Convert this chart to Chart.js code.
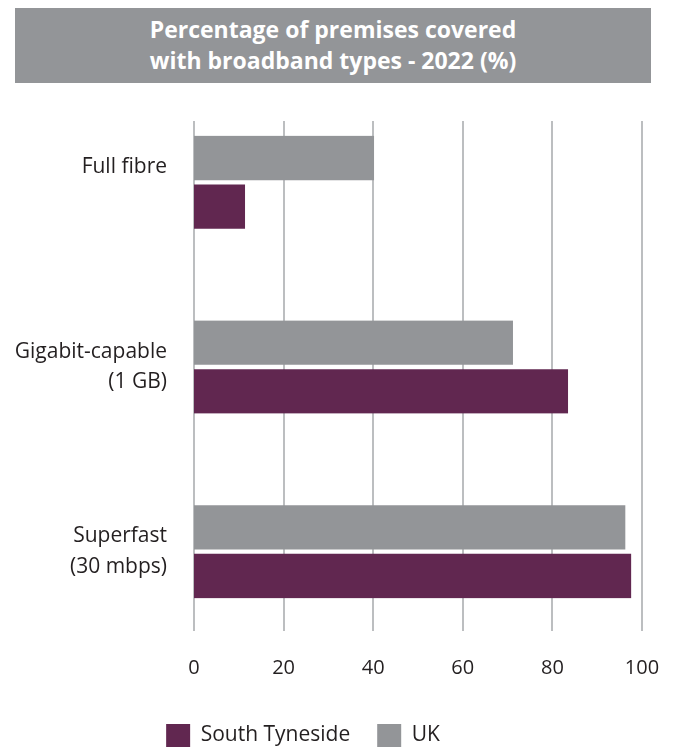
<!DOCTYPE html>
<html>
<head>
<meta charset="utf-8">
<script src="https://cdn.jsdelivr.net/npm/chart.js@4/dist/chart.umd.min.js"></script>
<style>
  body { margin: 0; background: #fff; }
  #wrap { position: relative; width: 674px; height: 747px; }
  #title {
    position: absolute; left: 15px; top: 8px; width: 636px; height: 75px;
    background: #939598; color: #fff; text-align: center;
    font: bold 23px "Open Sans", sans-serif; line-height: 31px;
    box-sizing: border-box; padding-top: 6px;
  }
  canvas { position: absolute; left: 0; top: 0; }
</style>
</head>
<body>
<div id="wrap">
  <canvas id="chart" width="674" height="747"></canvas>
  <div id="title">Percentage of premises covered<br>with broadband types - 2022 (%)</div>
</div>
<script>
const categories = ['Full fibre', ['Gigabit-capable', '(1 GB)'], ['Superfast', '(30 mbps)']];
const ukValues = [40.2, 71.2, 96.3];
const southTynesideValues = [11.4, 83.5, 97.6];
const xTicks = [0, 20, 40, 60, 80, 100];

const FONT = '"Open Sans", sans-serif';
const TEXT = '#231f20';

// vertical grid lines, shorter than the plot area
const gridLines = {
  id: 'gridLines',
  beforeDatasetsDraw(chart) {
    const { ctx, chartArea, scales } = chart;
    ctx.save();
    ctx.strokeStyle = '#bcbec0';
    ctx.lineWidth = 2;
    xTicks.forEach(v => {
      const x = Math.round(scales.x.getPixelForValue(v));
      ctx.beginPath();
      ctx.moveTo(x, chartArea.top + 31);
      ctx.lineTo(x, chartArea.bottom - 13);
      ctx.stroke();
    });
    ctx.restore();
  }
};

// nudge the legend row left and down to the bottom edge
const legendPlacement = {
  id: 'legendPlacement',
  afterLayout(chart) {
    const legend = chart.legend;
    const dx = -18, dy = 10;
    legend.left += dx; legend.right += dx;
    legend.top += dy; legend.bottom += dy;
  }
};

new Chart(document.getElementById('chart'), {
  type: 'bar',
  data: {
    labels: categories,
    datasets: [
      {
        label: 'UK',
        data: ukValues,
        backgroundColor: '#939598',
        borderColor: 'rgba(0,0,0,0)',
        borderWidth: { top: 0, right: 0, bottom: 2.5, left: 0 },
        barThickness: 46.5
      },
      {
        label: 'South Tyneside',
        data: southTynesideValues,
        backgroundColor: '#612750',
        borderColor: 'rgba(0,0,0,0)',
        borderWidth: { top: 2.5, right: 0, bottom: 0, left: 0 },
        barThickness: 46.5
      }
    ]
  },
  options: {
    indexAxis: 'y',
    responsive: false,
    animation: false,
    layout: { padding: { top: 90, right: 32, left: 0, bottom: 0 } },
    scales: {
      x: {
        min: 0,
        max: 100,
        afterBuildTicks: scale => { scale.ticks = xTicks.map(v => ({ value: v })); },
        grid: { display: false, drawTicks: false },
        border: { display: false },
        ticks: { color: TEXT, font: { family: FONT, size: 20 }, padding: 12 },
        afterFit: scale => { scale.height = 43; }
      },
      y: {
        grid: { display: false, drawTicks: false },
        border: { display: false },
        ticks: {
          color: TEXT,
          font: { family: FONT, size: 21, lineHeight: 1.45 },
          padding: 27,
          callback: function (value) {
            const label = this.getLabelForValue(value);
            return Array.isArray(label) ? label : [label, ''];
          }
        },
        afterFit: scale => { scale.width = 194; }
      }
    },
    plugins: {
      legend: {
        position: 'bottom',
        reverse: true,
        labels: {
          color: TEXT,
          font: { family: FONT, size: 21 },
          boxWidth: 24,
          boxHeight: 23,
          padding: 27
        }
      },
      tooltip: { enabled: false }
    }
  },
  plugins: [gridLines, legendPlacement]
});
</script>
</body>
</html>
